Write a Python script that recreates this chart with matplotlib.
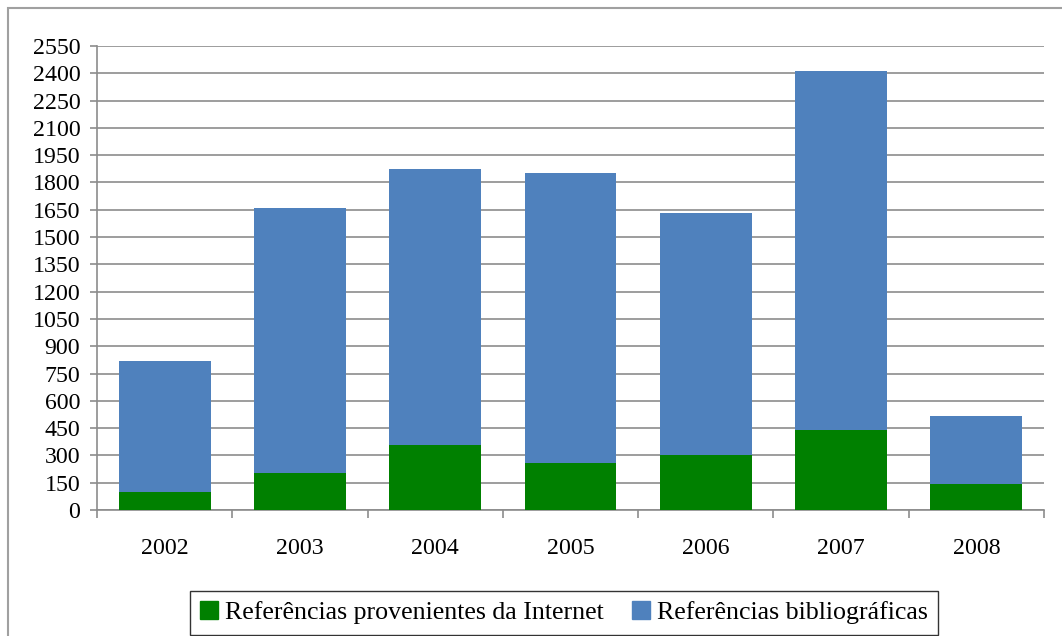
import matplotlib
matplotlib.use("Agg")
from matplotlib import pyplot as plt
from matplotlib.patches import Rectangle, Patch
import numpy as np

plt.rcParams['font.family'] = ['Liberation Serif', 'DejaVu Serif']

anos = ['2002', '2003', '2004', '2005', '2006', '2007', '2008']
internet = [100, 205, 355, 260, 300, 440, 145]
bibliograficas = [720, 1455, 1520, 1590, 1330, 1975, 370]

verde = '#008000'
azul = '#4F81BD'
cinza = '#8c8c8c'

fig = plt.figure(figsize=(10.62, 6.36), dpi=100)
ax = fig.add_axes([97/1062, 1 - 510/636, (1044 - 97)/1062, (510 - 46)/636])

x = np.arange(len(anos))
ax.bar(x, internet, 0.68, color=verde, zorder=3)
ax.bar(x, bibliograficas, 0.68, bottom=internet, color=azul, zorder=3)

ax.set_xlim(-0.5, len(anos) - 0.5)
ax.set_ylim(0, 2550)
ax.set_yticks(range(0, 2551, 150))
ax.yaxis.grid(True, color=cinza, linewidth=1.2, zorder=0)

# rotulos dos anos no centro, marcas nas divisoes
ax.set_xticks(np.arange(-0.5, len(anos)), labels=[''] * (len(anos) + 1))
ax.set_xticks(x, labels=anos, minor=True)
ax.tick_params(axis='x', which='major', length=6, color=cinza, width=1.2)
ax.tick_params(axis='x', which='minor', length=0, pad=20, labelsize=17.2)
ax.tick_params(axis='y', length=5, color=cinza, width=1.2, pad=7, labelsize=17.2)

for s in ['top', 'right']:
    ax.spines[s].set_visible(False)
for s in ['left', 'bottom']:
    ax.spines[s].set_color(cinza)
    ax.spines[s].set_linewidth(1.2)

# moldura do grafico
fig.patches.append(Rectangle((8/1062, -0.1), 1.2, 1 - 8/636 + 0.1,
                             transform=fig.transFigure, fill=False,
                             edgecolor='#a0a0a0', linewidth=1.5))

handles = [Patch(color=verde), Patch(color=azul)]
leg = fig.legend(handles, ['Referências provenientes da Internet', 'Referências bibliográficas'],
                 loc='upper left', bbox_to_anchor=(190/1062, 1 - 591/636),
                 ncol=2, fontsize=18.6, frameon=True, fancybox=False,
                 handlelength=0.7, handleheight=0.7, handletextpad=0.25,
                 columnspacing=1.1, borderpad=0.4, borderaxespad=0)
leg.get_frame().set_edgecolor('black')
leg.get_frame().set_linewidth(1.0)

fig.savefig('out.png', dpi=100)
